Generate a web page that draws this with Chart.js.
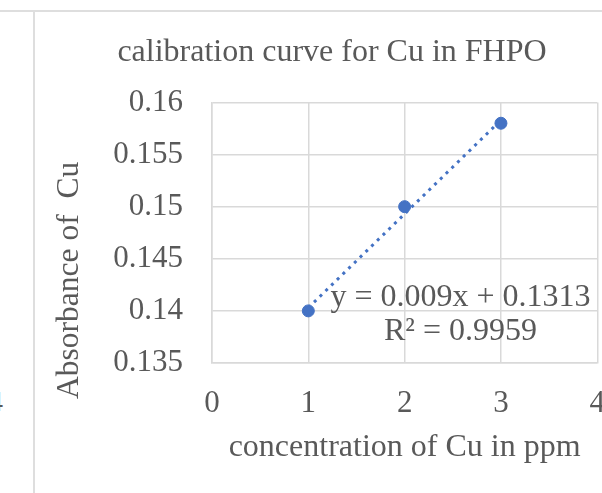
<!DOCTYPE html>
<html>
<head>
<meta charset="utf-8">
<script src="https://cdn.jsdelivr.net/npm/chart.js@4/dist/chart.umd.min.js"></script>
<style>
    html, body { margin: 0; padding: 0; background: #fff; overflow: hidden; width: 602px; height: 493px; }
    .sheet-top { position: absolute; left: 0; top: 10px; width: 602px; height: 0; border-top: 2px solid #dedede; }
    .sheet-left { position: absolute; left: 33px; top: 10px; width: 0; height: 483px; border-left: 2px solid #dedede; }
    .prev-tick { position: absolute; left: -12px; top: 384px; font: 30px 'Liberation Serif', 'Times New Roman', serif; color: #595959; }
    #wrap { position: absolute; left: 36px; top: 12px; width: 591px; height: 481px; }
</style>
</head>
<body>
<div class="sheet-top"></div>
<div class="sheet-left"></div>
<span class="prev-tick">4</span>
<div id="wrap"><canvas id="chart"></canvas></div>
<script>
    const concentrations = [1, 2, 3];
    const absorbances = [0.14, 0.15, 0.158];
    const xTickRange = [0, 4, 1];
    const yTickRange = [0.135, 0.16, 0.005];
    // linear fit as printed on the chart
    const trendSlope = 0.009;
    const trendIntercept = 0.1313;
    const fitLabels = ['y = 0.009x + 0.1313', 'R\u00b2 = 0.9959'];

    const serif = "'Liberation Serif', 'Times New Roman', serif";
    const textColor = '#595959';
    const gridColor = '#d9d9d9';
    const blue = '#4472C4';

    const points = concentrations.map((c, i) => ({ x: c, y: absorbances[i] }));
    const xFirst = concentrations[0];
    const xLast = concentrations[concentrations.length - 1];
    const trend = [xFirst, xLast].map(x => ({ x: x, y: trendSlope * x + trendIntercept }));

    // equation box inside the plot, centred below the line
    const fitLabelPlugin = {
        id: 'fitLabel',
        afterDatasetsDraw(chart) {
            const ctx = chart.ctx;
            const x = chart.scales.x.getPixelForValue(2.58);
            const y = chart.scales.y.getPixelForValue(0.1413);
            ctx.save();
            ctx.font = '32px ' + serif;
            ctx.fillStyle = textColor;
            ctx.textAlign = 'center';
            ctx.textBaseline = 'middle';
            fitLabels.forEach((t, i) => ctx.fillText(t, x, y + i * 34));
            ctx.restore();
        }
    };

    // vertical axis title sits lower than the axis middle
    const yTitlePlugin = {
        id: 'yTitle',
        afterDraw(chart) {
            const ctx = chart.ctx;
            const area = chart.chartArea;
            ctx.save();
            ctx.translate(34, area.top + (area.bottom - area.top) * 0.683);
            ctx.rotate(-Math.PI / 2);
            ctx.font = '31.5px ' + serif;
            ctx.fillStyle = textColor;
            ctx.textAlign = 'center';
            ctx.textBaseline = 'middle';
            ctx.fillText('Absorbance of  Cu', 0, 0);
            ctx.restore();
        }
    };

    new Chart(document.getElementById('chart'), {
        type: 'scatter',
        data: {
            datasets: [{
                label: 'Absorbance',
                data: points,
                backgroundColor: blue,
                borderColor: blue,
                pointRadius: 6,
                order: 0
            }, {
                label: 'Linear fit',
                data: trend,
                showLine: true,
                borderColor: blue,
                borderWidth: 3,
                borderDash: [3, 5],
                pointRadius: 0,
                order: 1
            }]
        },
        options: {
            responsive: true,
            maintainAspectRatio: false,
            animation: false,
            layout: { padding: { left: 1, right: 0, top: 0, bottom: 0 } },
            plugins: {
                legend: { display: false },
                tooltip: { enabled: false },
                title: {
                    display: true,
                    text: 'calibration curve for Cu in FHPO',
                    color: textColor,
                    font: { family: serif, size: 32, weight: 'normal' },
                    padding: { top: 21, bottom: 31 }
                }
            },
            scales: {
                x: {
                    type: 'linear',
                    min: xTickRange[0],
                    max: xTickRange[1],
                    afterFit(scale) { scale.height = 130; },
                    ticks: { stepSize: xTickRange[2], color: textColor, font: { family: serif, size: 31 }, padding: 22 },
                    grid: { color: gridColor, lineWidth: 1.5, drawTicks: false },
                    border: { color: gridColor, width: 1.5 },
                    title: {
                        display: true,
                        text: 'concentration of Cu in ppm',
                        color: textColor,
                        font: { family: serif, size: 32 },
                        padding: { top: 0, bottom: 26 }
                    }
                },
                y: {
                    min: yTickRange[0],
                    max: yTickRange[1],
                    afterFit(scale) { scale.width = 175; },
                    ticks: {
                        stepSize: yTickRange[2],
                        color: textColor,
                        font: { family: serif, size: 31 },
                        padding: 29,
                        callback: v => parseFloat(v.toFixed(3)).toString()
                    },
                    grid: { color: gridColor, lineWidth: 1.5, drawTicks: false },
                    border: { color: gridColor, width: 1.5 }
                }
            }
        },
        plugins: [fitLabelPlugin, yTitlePlugin]
    });
</script>
</body>
</html>
